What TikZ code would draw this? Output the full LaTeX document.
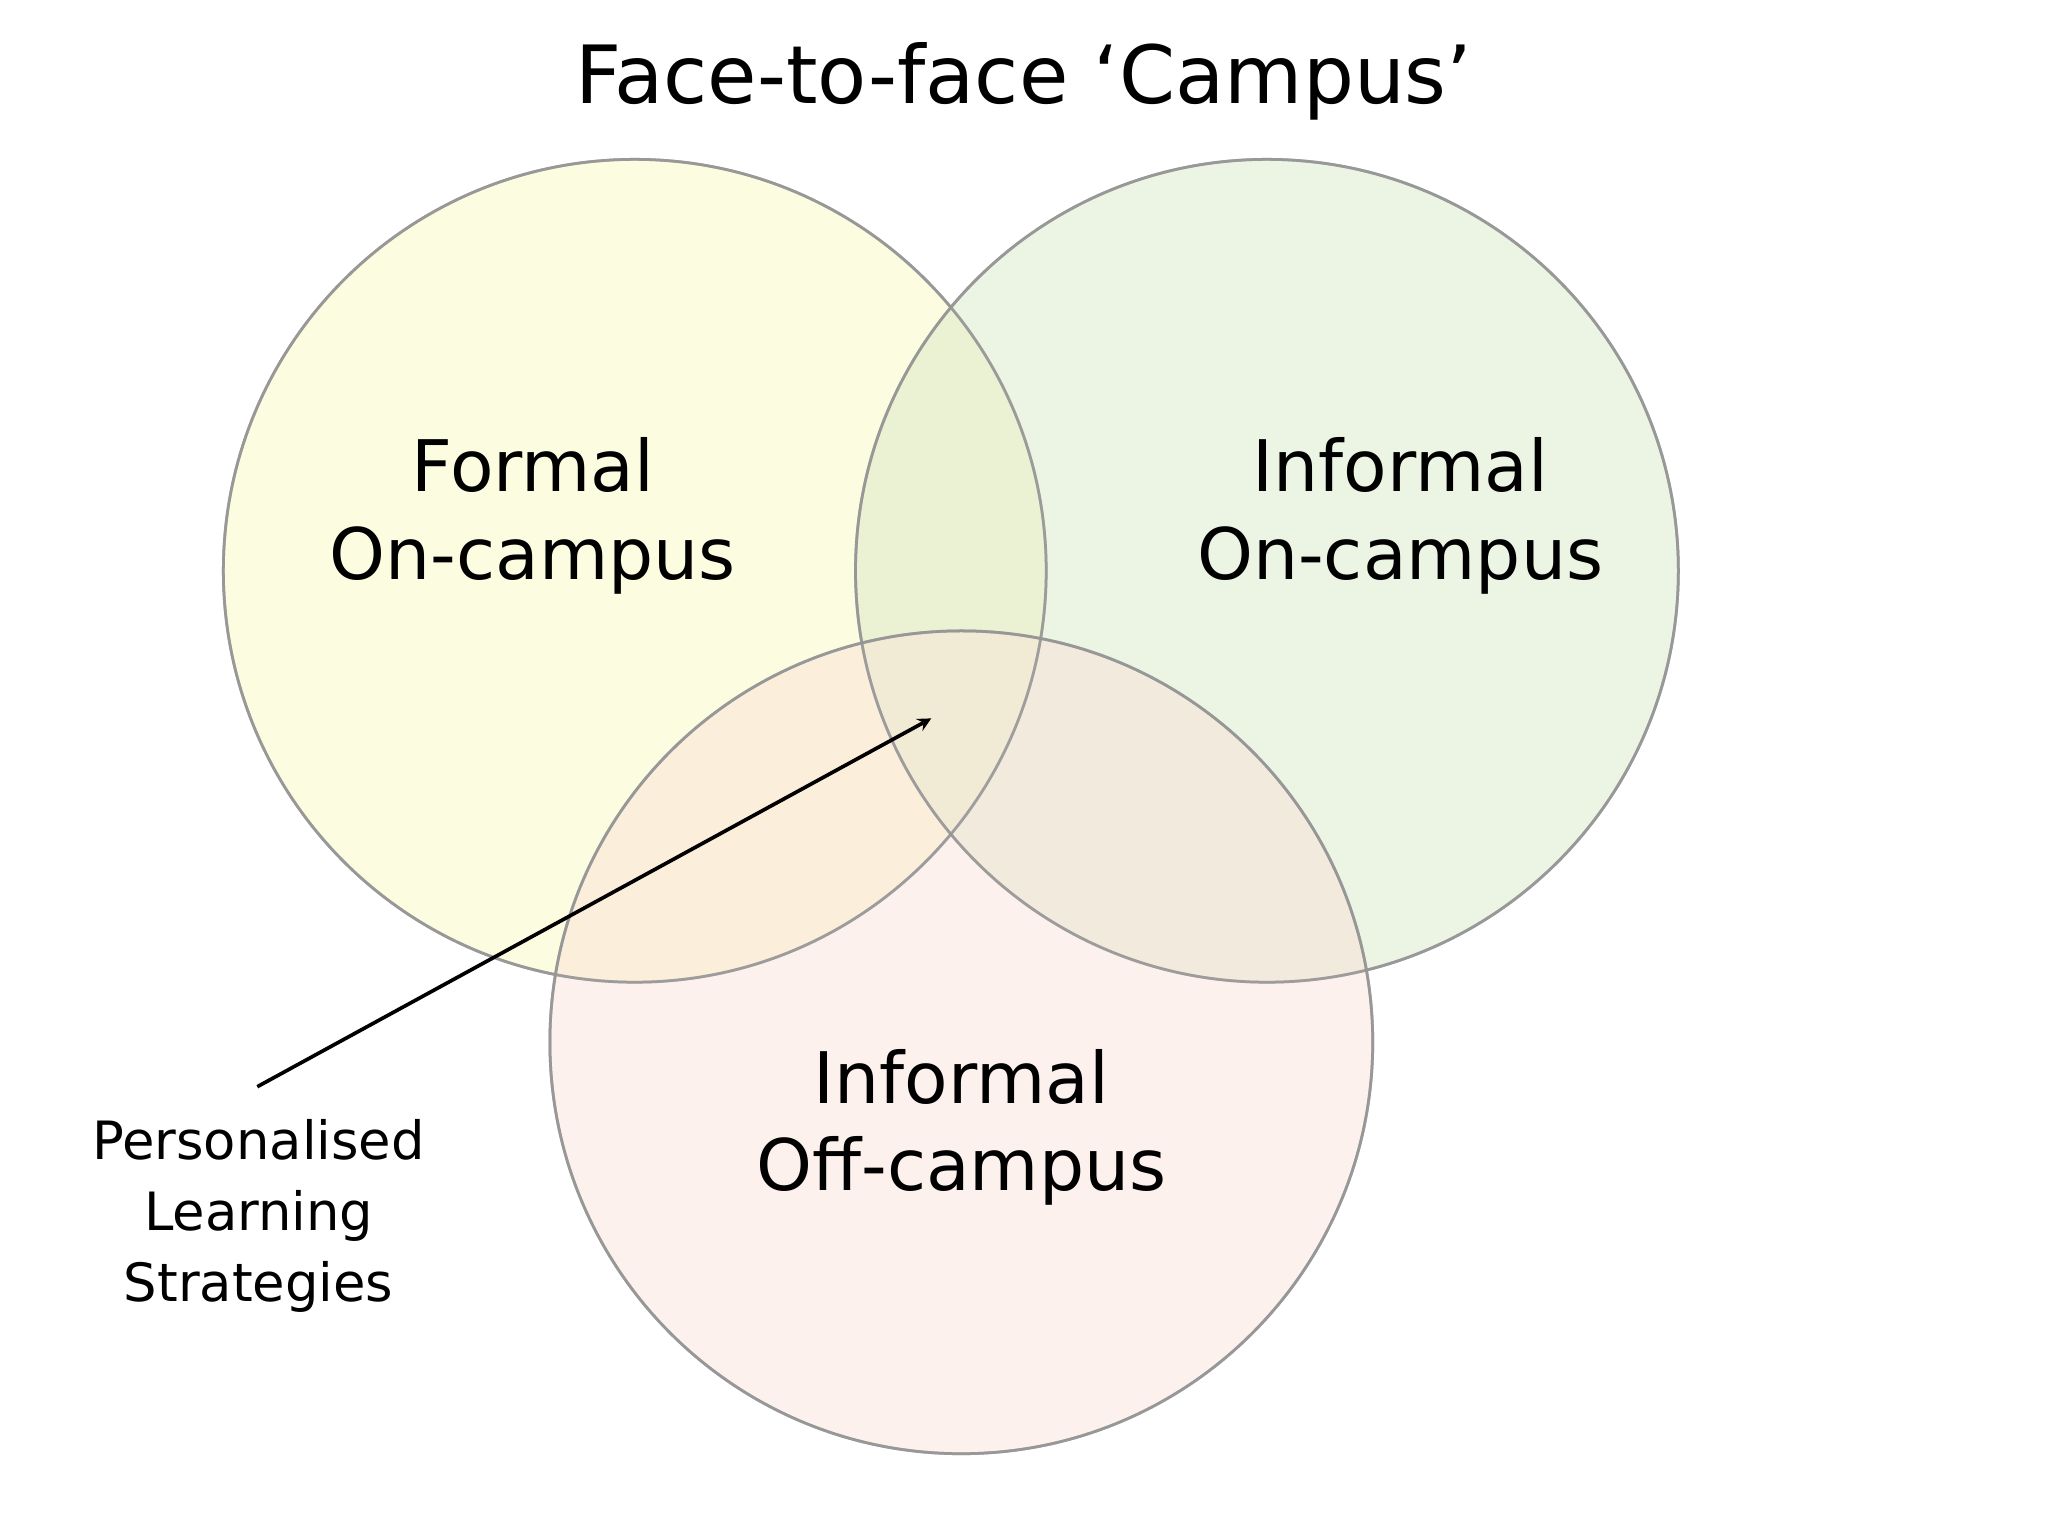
\documentclass[tikz,border=0pt]{standalone}
\usepackage{fontspec}
\setmainfont{DejaVu Sans}
\definecolor{cy}{RGB}{250,250,190}
\definecolor{cg}{RGB}{215,232,195}
\definecolor{cp}{RGB}{250,225,215}
\definecolor{edge}{RGB}{150,150,150}
\tikzset{venn/.style={draw=edge,line width=1.2pt,fill opacity=0.45,draw opacity=0.85},
lab/.style={align=center,font=\fontsize{31}{38}\selectfont},
small/.style={align=center,font=\fontsize{23}{31}\selectfont}}
\begin{document}
\begin{tikzpicture}[x=0.02cm,y=-0.02cm]
\useasboundingbox[fill=white] (0,0) rectangle (1568,1176);
\fill[venn,fill=cy] (486,437) circle[radius=315];
\fill[venn,fill=cg] (970,437) circle[radius=315];
\fill[venn,fill=cp] (736,798) circle[radius=315];
\draw[venn] (486,437) circle[radius=315];
\draw[venn] (970,437) circle[radius=315];
\draw[venn] (736,798) circle[radius=315];
\node[font=\fontsize{35}{40}\selectfont] (title) at (784,62) {Face-to-face ‘Campus’};
\node[lab] (f) at (408,395) {Formal\\On-campus};
\node[lab] (i) at (1072,395) {Informal\\On-campus};
\node[lab] (o) at (736,863) {Informal\\Off-campus};
\node[small] (p) at (198,931) {Personalised\\Learning\\Strategies};
\coordinate (s) at (197,832);
\coordinate (t) at (713,550);
\draw[line width=1.6pt,-stealth] (s) -- (t);
\end{tikzpicture}
\end{document}
